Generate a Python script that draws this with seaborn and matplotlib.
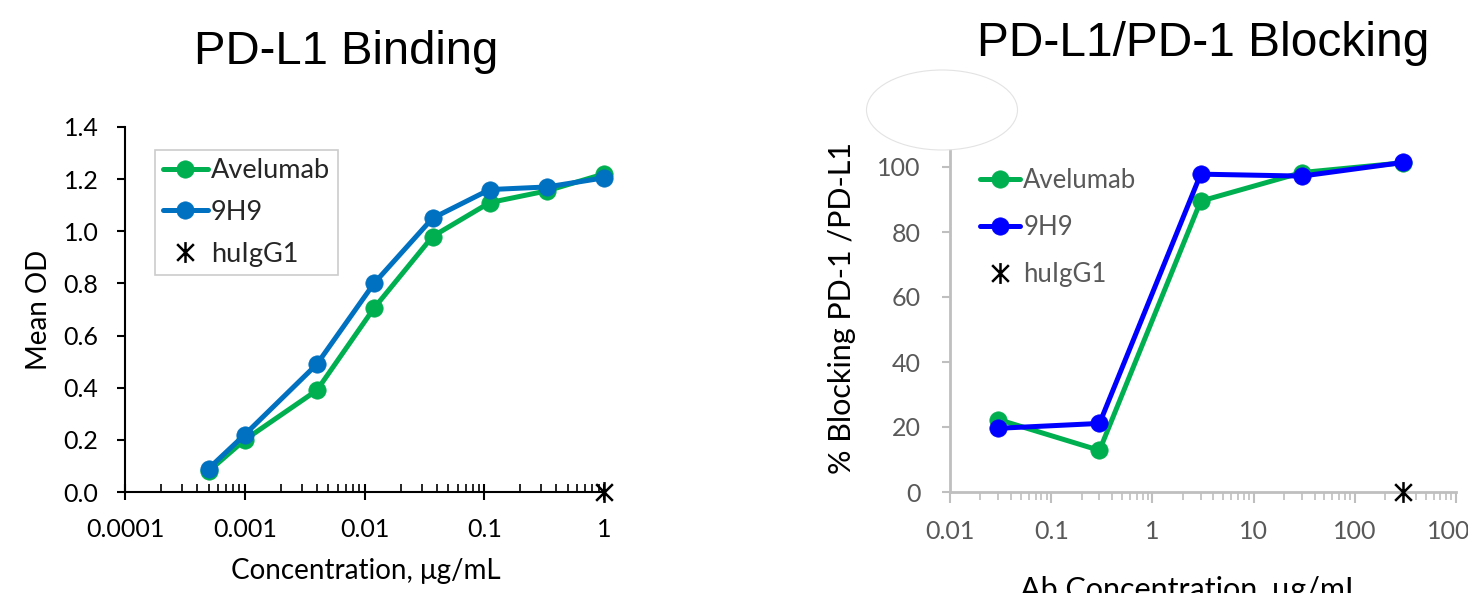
import numpy as np
import pandas as pd
import matplotlib
matplotlib.use("Agg")
import matplotlib.pyplot as plt
import seaborn as sns
from matplotlib.path import Path
from matplotlib.patches import Ellipse
from matplotlib.ticker import FuncFormatter, LogLocator, FixedLocator

# ---------------- data ----------------
bind_conc = [0.0005, 0.001, 0.004, 0.012, 0.037, 0.111, 0.333, 1.0]
bind_avelumab = [0.08, 0.20, 0.39, 0.705, 0.98, 1.11, 1.155, 1.22]
bind_9h9 = [0.09, 0.22, 0.49, 0.80, 1.05, 1.16, 1.17, 1.205]
bind_huigg1_conc = [1.0]
bind_huigg1 = [0.0]

block_conc = [0.03, 0.3, 3, 30, 300]
block_avelumab = [22.3, 12.8, 89.5, 98.3, 101.3]
block_9h9 = [19.6, 21.1, 97.8, 97.2, 101.4]
block_huigg1_conc = [300]
block_huigg1 = [0.0]

bind_xticks = [0.0001, 0.001, 0.01, 0.1, 1]
block_xticks = [0.01, 0.1, 1, 10, 100, 1000]
bind_yticks = [0.0, 0.2, 0.4, 0.6, 0.8, 1.0, 1.2, 1.4]
block_yticks = [0, 20, 40, 60, 80, 100, 120]

# ---------------- style ----------------
sns.set_theme(style="ticks")
plt.rcParams['font.family'] = ['Lato', 'DejaVu Sans']

GREEN = "#00b050"
BLUE_L = "#0070c0"
BLUE_R = "#0000ff"
GRAY = "#bfbfbf"
TGRAY = "#595959"

star = Path([(0, -1), (0, 1), (-0.8, -0.8), (0.8, 0.8), (-0.8, 0.8), (0.8, -0.8)],
            [Path.MOVETO, Path.LINETO, Path.MOVETO, Path.LINETO, Path.MOVETO, Path.LINETO])

fig = plt.figure(figsize=(14.68, 5.93), dpi=100)
W, H = 1468, 593

def px_axes(x0, x1, ytop, ybot):
    return fig.add_axes([x0 / W, 1 - ybot / H, (x1 - x0) / W, (ybot - ytop) / H])

ax1 = px_axes(125, 604, 127, 492)
ax2 = px_axes(950, 1456, 102, 492)

lw = 3.6
ms = 12.5
sms = 15

# ---- left: binding ----
df1 = pd.DataFrame({"conc": bind_conc, "Avelumab": bind_avelumab, "9H9": bind_9h9})
sns.lineplot(data=df1, x="conc", y="Avelumab", ax=ax1, color=GREEN, lw=lw, marker="o",
             markersize=ms, markeredgewidth=0.5, markeredgecolor=GREEN, label="Avelumab",
             clip_on=False, zorder=3)
sns.lineplot(data=df1, x="conc", y="9H9", ax=ax1, color=BLUE_L, lw=lw, marker="o",
             markersize=ms, markeredgewidth=0.5, markeredgecolor=BLUE_L, label="9H9",
             clip_on=False, zorder=4)
sns.lineplot(x=bind_huigg1_conc, y=bind_huigg1, ax=ax1, color="black", linestyle="",
             marker=star, markersize=sms, markeredgewidth=1.8, markeredgecolor="black",
             label="huIgG1", clip_on=False, zorder=5)

ax1.set_xscale("log")
ax1.set_xlim(1e-4, 1)
ax1.set_ylim(0, 1.4)
ax1.xaxis.set_major_locator(FixedLocator(bind_xticks))
ax1.xaxis.set_minor_locator(LogLocator(base=10, subs=np.arange(2, 10)))
ax1.xaxis.set_major_formatter(FuncFormatter(lambda v, p: f"{v:g}"))
ax1.yaxis.set_major_locator(FixedLocator(bind_yticks))
ax1.yaxis.set_major_formatter(FuncFormatter(lambda v, p: f"{v:.1f}"))
for s in ["top", "right"]:
    ax1.spines[s].set_visible(False)
for s in ["left", "bottom"]:
    ax1.spines[s].set_color("black")
    ax1.spines[s].set_linewidth(1.5)
ax1.tick_params(axis="x", which="major", direction="inout", length=12, width=1.5,
                color="black", pad=13, labelsize=18, labelcolor="black")
ax1.tick_params(axis="x", which="minor", direction="in", length=6, width=1.2, color="black")
ax1.tick_params(axis="y", which="major", direction="out", length=6, width=1.5,
                color="black", pad=13, labelsize=18, labelcolor="black")
ax1.set_xlabel("Concentration, \u03bcg/mL", fontsize=20, color="black")
ax1.set_ylabel("Mean OD", fontsize=20, color="black")
ax1.xaxis.set_label_coords((366 - 125) / 479, (492 - 558) / 365)
ax1.yaxis.set_label_coords((52 - 125) / 479, 0.5)
ax1.patch.set_alpha(0)

leg1 = ax1.legend(loc="upper left", bbox_to_anchor=((155 - 125) / 479, (492 - 150) / 365),
                  borderaxespad=0, fontsize=19.5, frameon=True, fancybox=False,
                  edgecolor=GRAY, handlelength=1.65, handletextpad=0.12,
                  labelspacing=0.62, borderpad=0.3)
leg1.get_frame().set_linewidth(1.2)

# ---- right: blocking ----
df2 = pd.DataFrame({"conc": block_conc, "Avelumab": block_avelumab, "9H9": block_9h9})
sns.lineplot(data=df2, x="conc", y="Avelumab", ax=ax2, color=GREEN, lw=lw, marker="o",
             markersize=ms, markeredgewidth=0.5, markeredgecolor=GREEN, label="Avelumab",
             clip_on=False, zorder=3)
sns.lineplot(data=df2, x="conc", y="9H9", ax=ax2, color=BLUE_R, lw=lw, marker="o",
             markersize=ms, markeredgewidth=0.5, markeredgecolor=BLUE_R, label="9H9",
             clip_on=False, zorder=4)
sns.lineplot(x=block_huigg1_conc, y=block_huigg1, ax=ax2, color="black", linestyle="",
             marker=star, markersize=sms, markeredgewidth=1.8, markeredgecolor="black",
             label="huIgG1", clip_on=False, zorder=5)

ax2.set_xscale("log")
ax2.set_xlim(0.01, 1000)
ax2.set_ylim(0, 120)
ax2.xaxis.set_major_locator(FixedLocator(block_xticks))
ax2.xaxis.set_minor_locator(LogLocator(base=10, subs=np.arange(2, 10)))
ax2.xaxis.set_major_formatter(FuncFormatter(lambda v, p: f"{v:g}"))
ax2.yaxis.set_major_locator(FixedLocator(block_yticks))
for s in ["top", "right"]:
    ax2.spines[s].set_visible(False)
for s in ["left", "bottom"]:
    ax2.spines[s].set_color(GRAY)
    ax2.spines[s].set_linewidth(2)
ax2.tick_params(axis="x", which="major", direction="out", length=8, width=1.5,
                color=GRAY, pad=12, labelsize=18, labelcolor=TGRAY)
ax2.tick_params(axis="x", which="minor", direction="out", length=6, width=1.2, color=GRAY)
ax2.tick_params(axis="y", which="major", direction="out", length=6, width=1.5,
                color=GRAY, pad=15, labelsize=18, labelcolor=TGRAY)
ax2.set_xlabel("Ab Concentration, \u03bcg/mL", fontsize=22, color="black")
ax2.set_ylabel("% Blocking PD-1 /PD-L1", fontsize=22, color="black")
ax2.xaxis.set_label_coords((1190 - 950) / 506, (492 - 576) / 390)
ax2.yaxis.set_label_coords((856 - 950) / 506, (492 - 308) / 390)
ax2.patch.set_alpha(0)

leg2 = ax2.legend(loc="upper left", bbox_to_anchor=((970 - 950) / 506, (492 - 158) / 390),
                  borderaxespad=0, fontsize=18.5, frameon=False, handlelength=1.55,
                  handletextpad=0.12, labelspacing=0.85)
for t in leg2.get_texts():
    t.set_color(TGRAY)

# titles
fig.text(346 / W, 1 - 64 / H, "PD-L1 Binding", ha="center", va="baseline",
         fontsize=34, family=["Liberation Sans", "DejaVu Sans"], color="black")
fig.text(1203 / W, 1 - 56 / H, "PD-L1/PD-1 Blocking", ha="center", va="baseline",
         fontsize=34.5, family=["Liberation Sans", "DejaVu Sans"], color="black")

# white ellipse overlay
ell = Ellipse((942 / W, 1 - 110 / H), 151 / W, 80 / H, transform=fig.transFigure,
              facecolor="white", edgecolor="#e3e3e3", linewidth=0.8, zorder=10)
fig.add_artist(ell)

fig.savefig("out.png", dpi=100, facecolor="white")
